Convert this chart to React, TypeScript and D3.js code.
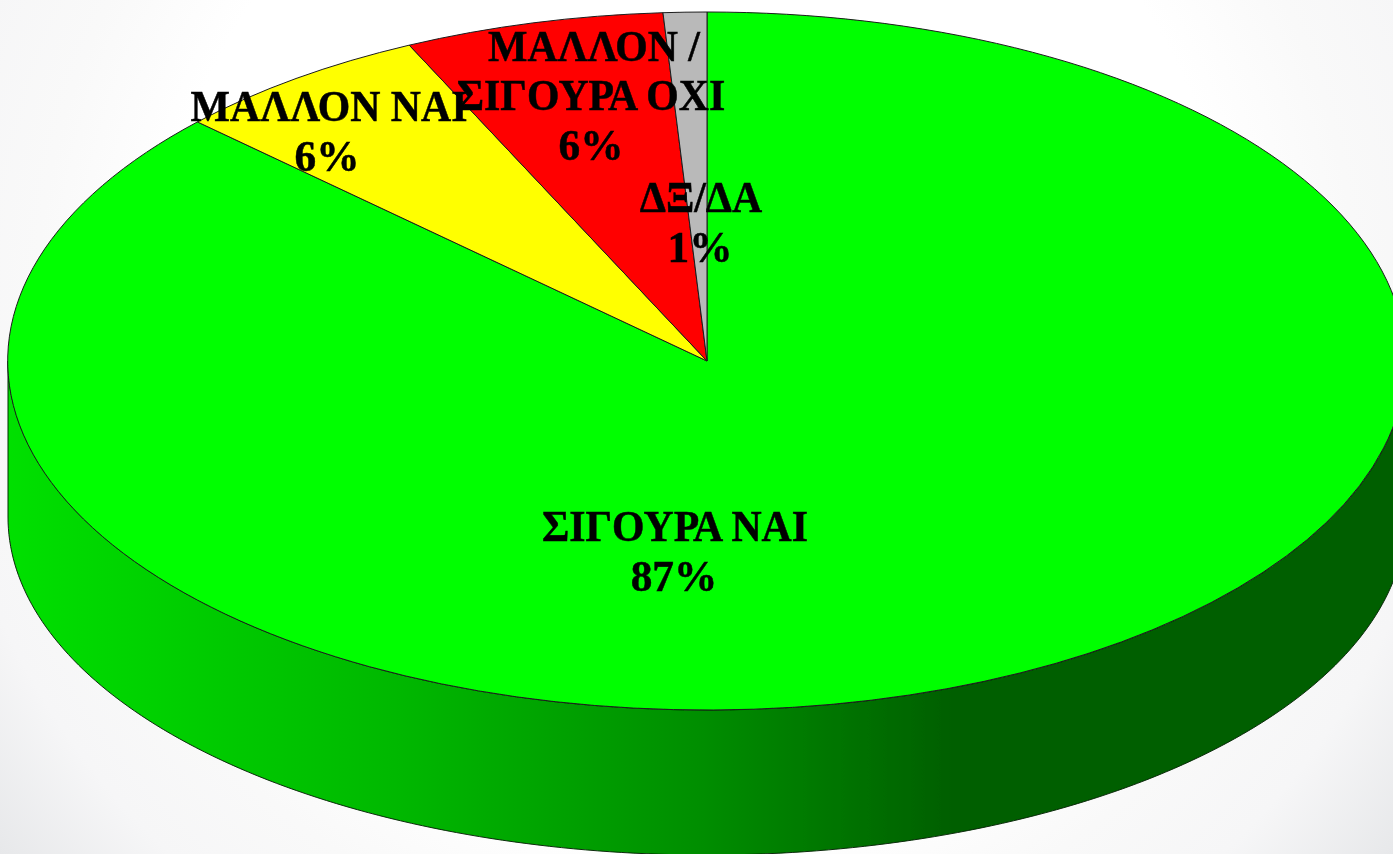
import React from "react";
import * as d3 from "d3";

const categories = ["ΣΙΓΟΥΡΑ ΝΑΙ", "ΜΑΛΛΟΝ ΝΑΙ", "ΜΑΛΛΟΝ / ΣΙΓΟΥΡΑ ΟΧΙ", "ΔΞ/ΔΑ"];
const values = [87, 6, 6, 1];
const colors = ["#00ff00", "#ffff00", "#ff0000", "#b9b9b9"];
const labelLines = [
  ["ΣΙΓΟΥΡΑ ΝΑΙ", "87%"],
  ["ΜΑΛΛΟΝ ΝΑΙ", "6%"],
  ["ΜΑΛΛΟΝ /", "ΣΙΓΟΥΡΑ ΟΧΙ", "6%"],
  ["ΔΞ/ΔΑ", "1%"],
];
const labelX = [[675, 674], [329, 327], [594, 591, 591], [701, 700]];
const labelY = [[541, 591], [121, 171], [61, 110, 160], [212, 262]];

const W = 1393, H = 854;
const cx = 707, cy = 361, rx = 699, ry = 349;
const wallCy = 517, wallRy = 338;

export default function App() {
  const pie = d3.pie<number>().sort(null).startAngle(0).endAngle(2 * Math.PI);
  const arcs = pie(values);
  const arc = d3.arc<d3.PieArcDatum<number>>().innerRadius(0).outerRadius(1);
  const angles = d3.range(0, 181).map((d) => (Math.PI * d) / 180 - Math.PI / 2);
  const upper = angles.map((a) => [cx + rx * Math.sin(a), cy + ry * Math.cos(a)] as [number, number]);
  const lower = angles
    .slice()
    .reverse()
    .map((a) => [cx + rx * Math.sin(a), wallCy + wallRy * Math.cos(a)] as [number, number]);
  const wall = d3.line()([...upper, ...lower]) + "Z";
  return (
    <svg
      width={W}
      height={H}
      viewBox={`0 0 ${W} ${H}`}
      style={{ position: "fixed", left: 0, top: 0, display: "block", background: "#fff" }}
    >
      <defs>
        <radialGradient id="bg" gradientUnits="userSpaceOnUse" cx={W / 2} cy={H * 0.35} r={890}>
          <stop offset="0.6" stopColor="#ffffff" />
          <stop offset="0.74" stopColor="#f9f9f9" />
          <stop offset="0.86" stopColor="#f6f6f7" />
          <stop offset="1" stopColor="#e7e8ea" />
        </radialGradient>
        <linearGradient id="side" gradientUnits="userSpaceOnUse" x1={8} x2={1393} y1={0} y2={0}>
          <stop offset="0" stopColor="#00e000" />
          <stop offset="0.28" stopColor="#00b800" />
          <stop offset="0.5" stopColor="#008e00" />
          <stop offset="0.686" stopColor="#005e00" />
          <stop offset="1" stopColor="#005e00" />
        </linearGradient>
        <filter id="soft" x="-5%" y="-5%" width="110%" height="110%">
          <feGaussianBlur stdDeviation="0.55" />
        </filter>
      </defs>
      <rect width={W} height={H} fill="url(#bg)" />
      <g filter="url(#soft)">
        <path d={wall} fill="url(#side)" stroke="#0a2a0a" strokeWidth={1} />
        <g transform={`translate(${cx},${cy}) scale(${rx},${ry})`}>
          {arcs.map((a, i) => (
            <path
              key={categories[i]}
              d={arc(a) as string}
              fill={colors[i]}
              stroke="#1c1c1c"
              strokeWidth={1}
              vectorEffect="non-scaling-stroke"
            />
          ))}
        </g>
        <g
          fontFamily="'Liberation Serif', serif"
          fontWeight="bold"
          fontSize={44}
          fill="#000"
          stroke="#000"
          strokeWidth={0.5}
          textAnchor="middle"
        >
          {labelLines.map((lines, i) =>
            lines.map((l, j) => (
              <text
                key={`${i}-${j}`}
                transform={`translate(${labelX[i][j]},${labelY[i][j]}) scale(${l.endsWith("%") ? 0.985 : 0.95},1)`}
              >
                {l}
              </text>
            ))
          )}
        </g>
      </g>
    </svg>
  );
}
